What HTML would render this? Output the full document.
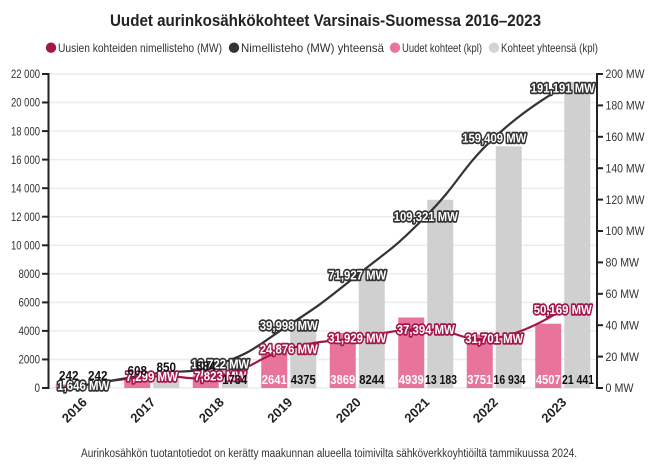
<!DOCTYPE html>
<html><head><meta charset="utf-8"><style>
html,body{margin:0;padding:0;background:#fff;}
svg{display:block;}
text{font-family:"Liberation Sans Narrow","Liberation Sans",sans-serif;}
</style></head><body>
<svg width="651" height="470" viewBox="0 0 651 470" xmlns="http://www.w3.org/2000/svg">
<rect width="651" height="470" fill="#fff"/>
<!-- Title -->
<text x="325.5" y="26" text-anchor="middle" font-size="17" font-weight="bold" fill="#222" textLength="431" lengthAdjust="spacingAndGlyphs">Uudet aurinkosähkökohteet Varsinais-Suomessa 2016–2023</text>
<!-- Legend -->
<g font-size="12" fill="#333">
<circle cx="51" cy="47.7" r="5.2" fill="#a3164a"/>
<text x="58" y="52" textLength="164" lengthAdjust="spacingAndGlyphs">Uusien kohteiden nimellisteho (MW)</text>
<circle cx="234" cy="47.7" r="5.2" fill="#333"/>
<text x="241" y="52" textLength="143" lengthAdjust="spacingAndGlyphs">Nimellisteho (MW) yhteensä</text>
<circle cx="395" cy="47.7" r="5.2" fill="#e8749b"/>
<text x="402" y="52" textLength="80" lengthAdjust="spacingAndGlyphs">Uudet kohteet (kpl)</text>
<circle cx="494" cy="47.7" r="5.2" fill="#d3d3d3"/>
<text x="501" y="52" textLength="97" lengthAdjust="spacingAndGlyphs">Kohteet yhteensä (kpl)</text>
</g>
<!-- Grid -->
<g stroke="#ececec" stroke-width="1.5">
<line x1="49" x2="597" y1="388" y2="388"/>
<line x1="49" x2="597" y1="359.45" y2="359.45"/>
<line x1="49" x2="597" y1="330.9" y2="330.9"/>
<line x1="49" x2="597" y1="302.4" y2="302.4"/>
<line x1="49" x2="597" y1="273.8" y2="273.8"/>
<line x1="49" x2="597" y1="245.3" y2="245.3"/>
<line x1="49" x2="597" y1="216.7" y2="216.7"/>
<line x1="49" x2="597" y1="188.2" y2="188.2"/>
<line x1="49" x2="597" y1="159.6" y2="159.6"/>
<line x1="49" x2="597" y1="131.1" y2="131.1"/>
<line x1="49" x2="597" y1="102.5" y2="102.5"/>
<line x1="49" x2="597" y1="74" y2="74"/>
</g>
<!-- Left axis -->
<g stroke="#222" stroke-width="2">
<line x1="48.5" x2="48.5" y1="73" y2="389"/>
<line x1="42" x2="48.5" y1="388" y2="388"/>
<line x1="42" x2="48.5" y1="359.45" y2="359.45"/>
<line x1="42" x2="48.5" y1="330.9" y2="330.9"/>
<line x1="42" x2="48.5" y1="302.4" y2="302.4"/>
<line x1="42" x2="48.5" y1="273.8" y2="273.8"/>
<line x1="42" x2="48.5" y1="245.3" y2="245.3"/>
<line x1="42" x2="48.5" y1="216.7" y2="216.7"/>
<line x1="42" x2="48.5" y1="188.2" y2="188.2"/>
<line x1="42" x2="48.5" y1="159.6" y2="159.6"/>
<line x1="42" x2="48.5" y1="131.1" y2="131.1"/>
<line x1="42" x2="48.5" y1="102.5" y2="102.5"/>
<line x1="42" x2="48.5" y1="74" y2="74"/>
</g>
<g font-size="12" fill="#333" text-anchor="end">
<text x="40" y="392.2" textLength="5.5" lengthAdjust="spacingAndGlyphs">0</text>
<text x="40" y="363.6" textLength="21.5" lengthAdjust="spacingAndGlyphs">2000</text>
<text x="40" y="335.1" textLength="21.5" lengthAdjust="spacingAndGlyphs">4000</text>
<text x="40" y="306.6" textLength="21.5" lengthAdjust="spacingAndGlyphs">6000</text>
<text x="40" y="278" textLength="21.5" lengthAdjust="spacingAndGlyphs">8000</text>
<text x="40" y="249.5" textLength="29" lengthAdjust="spacingAndGlyphs">10 000</text>
<text x="40" y="220.9" textLength="29" lengthAdjust="spacingAndGlyphs">12 000</text>
<text x="40" y="192.4" textLength="29" lengthAdjust="spacingAndGlyphs">14 000</text>
<text x="40" y="163.8" textLength="29" lengthAdjust="spacingAndGlyphs">16 000</text>
<text x="40" y="135.3" textLength="29" lengthAdjust="spacingAndGlyphs">18 000</text>
<text x="40" y="106.7" textLength="29" lengthAdjust="spacingAndGlyphs">20 000</text>
<text x="40" y="78.2" textLength="29" lengthAdjust="spacingAndGlyphs">22 000</text>
</g>
<!-- Right axis -->
<g stroke="#222" stroke-width="2">
<line x1="597" x2="597" y1="73" y2="389"/>
<line x1="597" x2="603" y1="388" y2="388"/>
<line x1="597" x2="603" y1="356.6" y2="356.6"/>
<line x1="597" x2="603" y1="325.2" y2="325.2"/>
<line x1="597" x2="603" y1="293.8" y2="293.8"/>
<line x1="597" x2="603" y1="262.4" y2="262.4"/>
<line x1="597" x2="603" y1="231" y2="231"/>
<line x1="597" x2="603" y1="199.6" y2="199.6"/>
<line x1="597" x2="603" y1="168.2" y2="168.2"/>
<line x1="597" x2="603" y1="136.8" y2="136.8"/>
<line x1="597" x2="603" y1="105.4" y2="105.4"/>
<line x1="597" x2="603" y1="74" y2="74"/>
</g>
<g font-size="12" fill="#333">
<text x="605.5" y="392.2" textLength="28" lengthAdjust="spacingAndGlyphs">0 MW</text>
<text x="605.5" y="360.8" textLength="33.5" lengthAdjust="spacingAndGlyphs">20 MW</text>
<text x="605.5" y="329.4" textLength="33.5" lengthAdjust="spacingAndGlyphs">40 MW</text>
<text x="605.5" y="298" textLength="33.5" lengthAdjust="spacingAndGlyphs">60 MW</text>
<text x="605.5" y="266.6" textLength="33.5" lengthAdjust="spacingAndGlyphs">80 MW</text>
<text x="605.5" y="235.2" textLength="39" lengthAdjust="spacingAndGlyphs">100 MW</text>
<text x="605.5" y="203.8" textLength="39" lengthAdjust="spacingAndGlyphs">120 MW</text>
<text x="605.5" y="172.4" textLength="39" lengthAdjust="spacingAndGlyphs">140 MW</text>
<text x="605.5" y="141" textLength="39" lengthAdjust="spacingAndGlyphs">160 MW</text>
<text x="605.5" y="109.6" textLength="39" lengthAdjust="spacingAndGlyphs">180 MW</text>
<text x="605.5" y="78.2" textLength="39" lengthAdjust="spacingAndGlyphs">200 MW</text>
</g>
<!-- Bars: pink -->
<g fill="#e8749b">
<rect x="55.75" y="384.55" width="26" height="3.45"/>
<rect x="124.25" y="379.3" width="26" height="8.7"/>
<rect x="192.75" y="375.4" width="26" height="12.6"/>
<rect x="261.25" y="350.3" width="26" height="37.7"/>
<rect x="329.75" y="332.8" width="26" height="55.2"/>
<rect x="398.25" y="317.5" width="26" height="70.5"/>
<rect x="466.75" y="334.5" width="26" height="53.5"/>
<rect x="535.25" y="323.7" width="26" height="64.3"/>
</g>
<!-- Bars: gray -->
<g fill="#d0d0d0">
<rect x="84.75" y="384.55" width="26" height="3.45"/>
<rect x="153.25" y="375.9" width="26" height="12.1"/>
<rect x="221.75" y="363.25" width="26" height="24.75"/>
<rect x="290.25" y="325.6" width="26" height="62.4"/>
<rect x="358.75" y="270.3" width="26" height="117.7"/>
<rect x="427.25" y="199.8" width="26" height="188.2"/>
<rect x="495.75" y="146.3" width="26" height="241.7"/>
<rect x="564.25" y="82" width="26" height="306"/>
</g>
<!-- Pink line -->
<path d="M83.25,385.4 C83.25,385.4 117.5,378.9 151.75,376.5 C186,374.1 186,382.6 220.25,375.7 C254.5,368.8 254.5,358.35 288.75,348.9 C323,339.45 323,342.8 357.25,337.9 C391.5,333 391.5,329.2 425.75,329.3 C460,329.4 460,343.2 494.25,338.2 C528.5,333.2 562.75,309.2 562.75,309.2" fill="none" stroke="#a3164a" stroke-width="2.2"/>
<!-- Dark line -->
<path d="M83.25,385.4 C83.25,385.4 117.5,379.4 151.75,374 C186,368.6 186,375.9 220.25,363.7 C254.5,351.5 254.5,347.35 288.75,325.2 C323,303.05 323,302.3 357.25,275.1 C391.5,247.9 391.5,250.75 425.75,216.4 C460,182.05 460,169.85 494.25,137.7 C528.5,105.55 562.75,87.8 562.75,87.8" fill="none" stroke="#333" stroke-width="2.2"/>
<!-- Pink line labels -->
<g font-size="13" font-weight="bold" fill="#fff" stroke="#a3164a" stroke-width="3.4" stroke-linejoin="round" paint-order="stroke" text-anchor="middle">
<text x="151.75" y="381.1" textLength="52" lengthAdjust="spacingAndGlyphs">7,299 MW</text>
<text x="220.25" y="380.3" textLength="52" lengthAdjust="spacingAndGlyphs">7,823 MW</text>
<text x="288.75" y="353.5" textLength="58" lengthAdjust="spacingAndGlyphs">24,876 MW</text>
<text x="357.25" y="342.5" textLength="58" lengthAdjust="spacingAndGlyphs">31,929 MW</text>
<text x="425.75" y="333.9" textLength="58" lengthAdjust="spacingAndGlyphs">37,394 MW</text>
<text x="494.25" y="342.8" textLength="58" lengthAdjust="spacingAndGlyphs">31,701 MW</text>
<text x="562.75" y="313.8" textLength="58" lengthAdjust="spacingAndGlyphs">50,169 MW</text>
</g>
<!-- Dark line labels -->
<g font-size="13" font-weight="bold" fill="#fff" stroke="#333" stroke-width="3.4" stroke-linejoin="round" paint-order="stroke" text-anchor="middle">
<text x="83.25" y="390" textLength="52" lengthAdjust="spacingAndGlyphs">1,646 MW</text>
<text x="220.25" y="368.3" textLength="58" lengthAdjust="spacingAndGlyphs">16,722 MW</text>
<text x="288.75" y="329.8" textLength="58" lengthAdjust="spacingAndGlyphs">39,998 MW</text>
<text x="357.25" y="279.7" textLength="58" lengthAdjust="spacingAndGlyphs">71,927 MW</text>
<text x="425.75" y="221" textLength="64" lengthAdjust="spacingAndGlyphs">109,321 MW</text>
<text x="494.25" y="142.3" textLength="64" lengthAdjust="spacingAndGlyphs">159,409 MW</text>
<text x="562.75" y="92.4" textLength="64" lengthAdjust="spacingAndGlyphs">191,191 MW</text>
</g>
<!-- Bar labels -->
<g font-size="13" font-weight="bold" text-anchor="middle" fill="#111">
<text x="68.75" y="380" textLength="19.5" lengthAdjust="spacingAndGlyphs">242</text>
<text x="97.75" y="380" textLength="19.5" lengthAdjust="spacingAndGlyphs">242</text>
<text x="137.25" y="375" textLength="19.5" lengthAdjust="spacingAndGlyphs">608</text>
<text x="166.25" y="371.5" textLength="19.5" lengthAdjust="spacingAndGlyphs">850</text>
<text x="205.75" y="370.5" textLength="19.5" lengthAdjust="spacingAndGlyphs">884</text>
<text x="234.75" y="384" textLength="25" lengthAdjust="spacingAndGlyphs">1734</text>
<text x="303.25" y="384" textLength="25" lengthAdjust="spacingAndGlyphs">4375</text>
<text x="371.75" y="384" textLength="25" lengthAdjust="spacingAndGlyphs">8244</text>
<text x="441" y="384" textLength="32" lengthAdjust="spacingAndGlyphs">13 183</text>
<text x="509.5" y="384" textLength="32" lengthAdjust="spacingAndGlyphs">16 934</text>
<text x="578" y="384" textLength="32" lengthAdjust="spacingAndGlyphs">21 441</text>
</g>
<g font-size="13" font-weight="bold" text-anchor="middle" fill="#fff">
<text x="274.25" y="384" textLength="25" lengthAdjust="spacingAndGlyphs">2641</text>
<text x="342.75" y="384" textLength="25" lengthAdjust="spacingAndGlyphs">3869</text>
<text x="411.25" y="384" textLength="25" lengthAdjust="spacingAndGlyphs">4939</text>
<text x="479.75" y="384" textLength="25" lengthAdjust="spacingAndGlyphs">3751</text>
<text x="548.25" y="384" textLength="25" lengthAdjust="spacingAndGlyphs">4507</text>
</g>
<!-- X axis labels -->
<g font-size="13" font-weight="bold" fill="#222" text-anchor="end">
<text transform="translate(87.75,403) rotate(-45)" textLength="29" lengthAdjust="spacingAndGlyphs">2016</text>
<text transform="translate(156.25,403) rotate(-45)" textLength="29" lengthAdjust="spacingAndGlyphs">2017</text>
<text transform="translate(224.75,403) rotate(-45)" textLength="29" lengthAdjust="spacingAndGlyphs">2018</text>
<text transform="translate(293.25,403) rotate(-45)" textLength="29" lengthAdjust="spacingAndGlyphs">2019</text>
<text transform="translate(361.75,403) rotate(-45)" textLength="29" lengthAdjust="spacingAndGlyphs">2020</text>
<text transform="translate(430.25,403) rotate(-45)" textLength="29" lengthAdjust="spacingAndGlyphs">2021</text>
<text transform="translate(498.75,403) rotate(-45)" textLength="29" lengthAdjust="spacingAndGlyphs">2022</text>
<text transform="translate(567.25,403) rotate(-45)" textLength="29" lengthAdjust="spacingAndGlyphs">2023</text>
</g>
<!-- Footnote -->
<text x="81" y="457" font-size="11.5" fill="#333" textLength="496" lengthAdjust="spacingAndGlyphs">Aurinkosähkön tuotantotiedot on kerätty maakunnan alueella toimivilta sähköverkkoyhtiöiltä tammikuussa 2024.</text>
</svg>
</body></html>
